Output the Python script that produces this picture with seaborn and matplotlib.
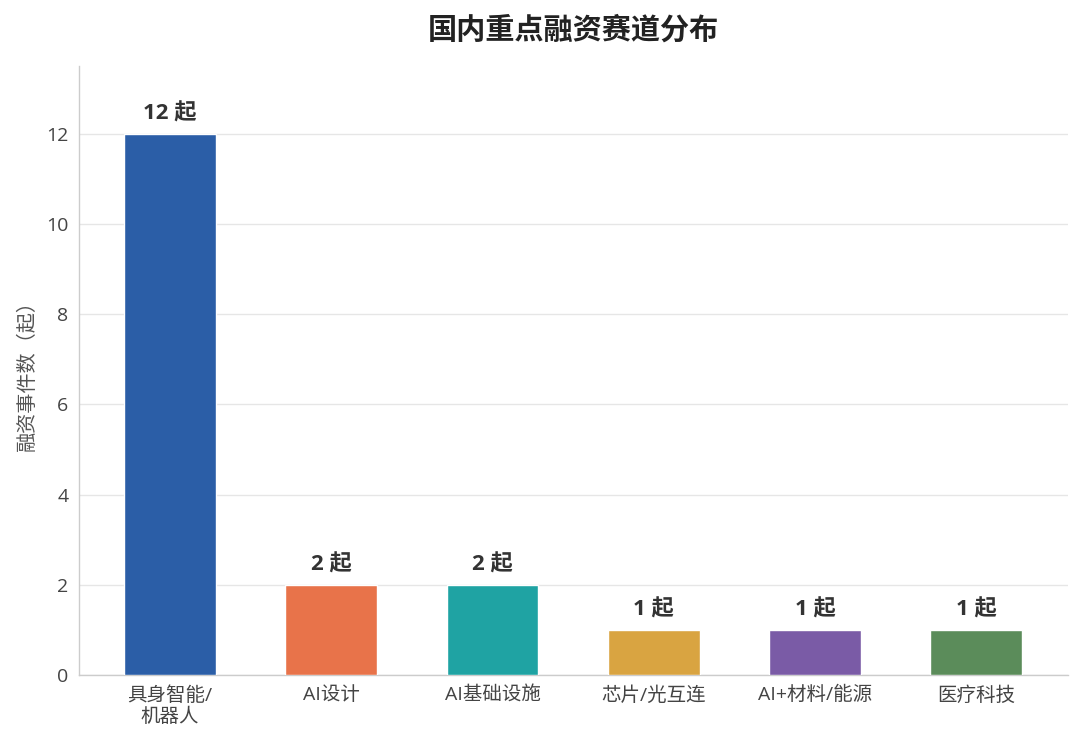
import matplotlib
matplotlib.use("Agg")
import matplotlib.pyplot as plt
import seaborn as sns
import pandas as pd

categories = ["具身智能/\n机器人", "AI设计", "AI基础设施", "芯片/光互连", "AI+材料/能源", "医疗科技"]
counts = [12, 2, 2, 1, 1, 1]
colors = ["#2B5EA7", "#E8734A", "#1FA3A3", "#D9A441", "#7A5BA6", "#5B8C5A"]
yticks = [0, 2, 4, 6, 8, 10, 12]

sns.set_theme(style="white")
plt.rcParams['font.family'] = ['Open Sans', 'Noto Sans CJK SC', 'DejaVu Sans']

df = pd.DataFrame({"cat": categories, "n": counts})

fig = plt.figure(figsize=(10.8, 7.3), dpi=100)
ax = fig.add_axes([0.0731, 0.0753, 0.9159, 0.8343])
sns.barplot(data=df, x="cat", y="n", hue="cat", palette=colors, legend=False,
            saturation=1, width=0.57, edgecolor="white", linewidth=1, ax=ax, zorder=3)

ax.set_ylim(0, 13.5)
ax.set_xlim(-0.565, 5.57)
ax.set_yticks(yticks)
ax.yaxis.grid(True, color="#e6e6e6", linewidth=1, zorder=0)
ax.set_axisbelow(True)
for s in ["top", "right"]:
    ax.spines[s].set_visible(False)
for s in ["left", "bottom"]:
    ax.spines[s].set_color("#cccccc")
    ax.spines[s].set_linewidth(1)
ax.tick_params(axis="both", colors="#555555", labelsize=14, length=4, width=1, labelcolor="#444444")
ax.tick_params(axis="x", pad=4)
ax.set_xlabel("")
ax.set_ylabel("融资事件数（起）", fontsize=14.5, color="#555555", labelpad=6)

for i, v in enumerate(counts):
    ax.text(i, v + 0.2, f"{v} 起", ha="center", va="bottom", fontsize=16,
            fontweight="bold", color="#333333")

ax.set_title("国内重点融资赛道分布", fontsize=21, fontweight="bold", color="#222222", pad=20)

fig.savefig("out.png", dpi=100)
